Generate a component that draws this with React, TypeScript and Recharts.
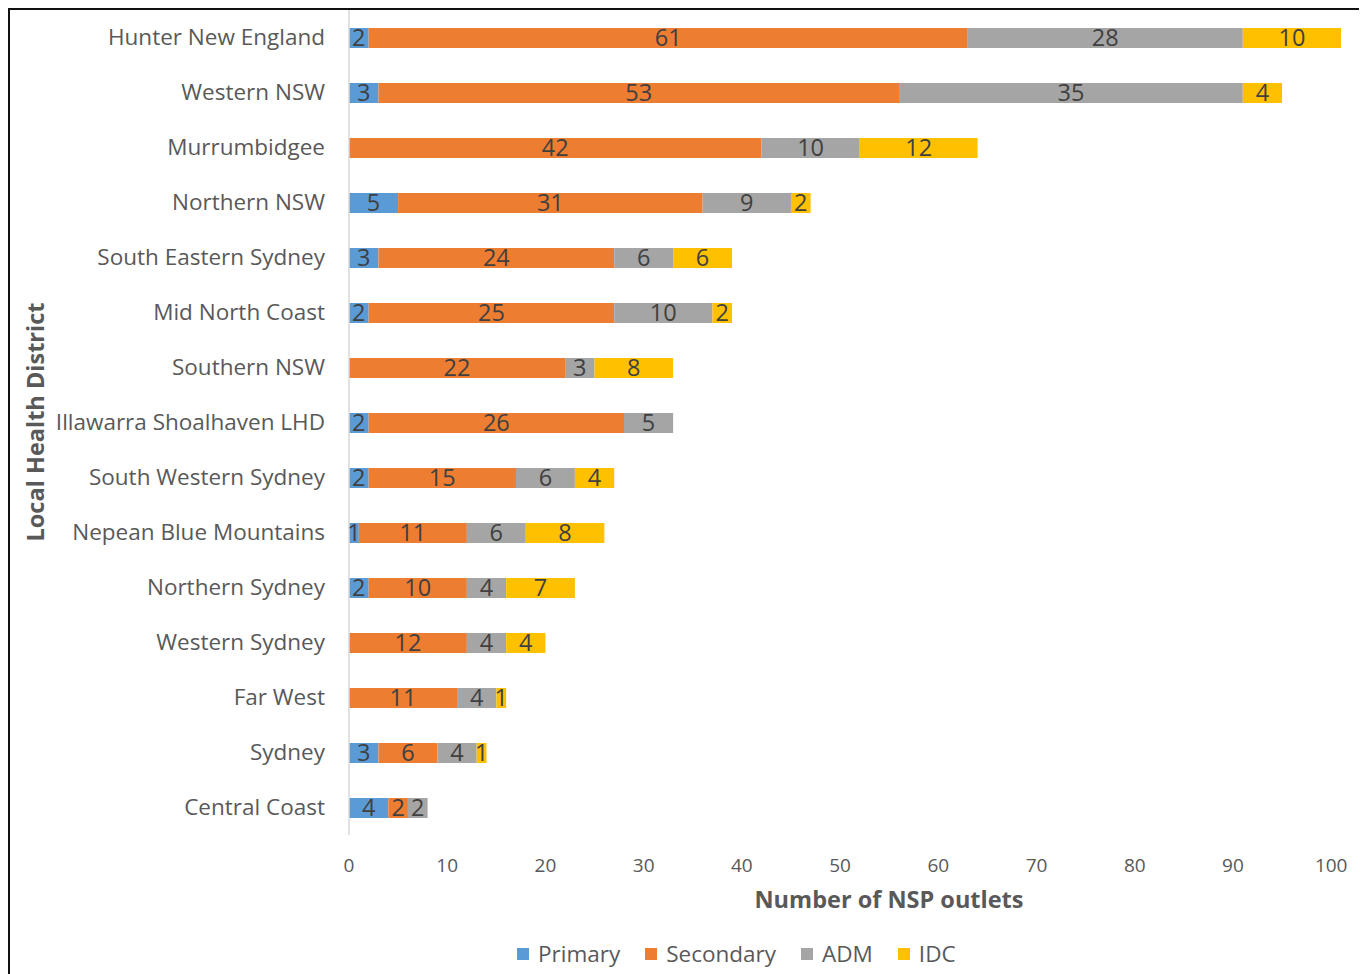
import React from 'react';
import { BarChart, Bar, XAxis, YAxis, Legend, LabelList } from 'recharts';

const districts = [
  'Hunter New England',
  'Western NSW',
  'Murrumbidgee',
  'Northern NSW',
  'South Eastern Sydney',
  'Mid North Coast',
  'Southern NSW',
  'Illawarra Shoalhaven LHD',
  'South Western Sydney',
  'Nepean Blue Mountains',
  'Northern Sydney',
  'Western Sydney',
  'Far West',
  'Sydney',
  'Central Coast',
];
const primary = [2, 3, 0, 5, 3, 2, 0, 2, 2, 1, 2, 0, 0, 3, 4];
const secondary = [61, 53, 42, 31, 24, 25, 22, 26, 15, 11, 10, 12, 11, 6, 2];
const adm = [28, 35, 10, 9, 6, 10, 3, 5, 6, 6, 4, 4, 4, 4, 2];
const idc = [10, 4, 12, 2, 6, 2, 8, 0, 4, 8, 7, 4, 1, 1, 0];
const xTicks = [0, 10, 20, 30, 40, 50, 60, 70, 80, 90, 100];

const series = [
  { key: 'Primary', color: '#5B9BD5' },
  { key: 'Secondary', color: '#ED7D31' },
  { key: 'ADM', color: '#A5A5A5' },
  { key: 'IDC', color: '#FFC000' },
];

const data = districts.map((name, i) => ({
  name,
  Primary: primary[i],
  Secondary: secondary[i],
  ADM: adm[i],
  IDC: idc[i],
}));

const FONT = '"Open Sans", sans-serif';

const renderLegend = () => (
  <div
    style={{
      position: 'absolute',
      left: 509,
      top: 0,
      display: 'flex',
      gap: 25,
      fontFamily: FONT,
      fontSize: 22.5,
      color: '#595959',
      whiteSpace: 'nowrap',
      lineHeight: '30px',
    }}
  >
    {series.map((s) => (
      <div key={s.key} style={{ display: 'flex', alignItems: 'center', gap: 9 }}>
        <span style={{ display: 'inline-block', width: 12, height: 12, background: s.color }} />
        <span>{s.key}</span>
      </div>
    ))}
  </div>
);

const fmt = (v: any) => (v ? v : '');

export default function App() {
  return (
    <div style={{ position: 'relative', width: 1355, height: 975 }}>
      <BarChart
        width={1355}
        height={975}
        data={data}
        layout="vertical"
        margin={{ top: 2, right: 22, left: 0, bottom: 108 }}
        style={{ fontFamily: FONT }}
      >
        <XAxis
          type="number"
          domain={[0, 101]}
          ticks={xTicks}
          axisLine={false}
          tickLine={false}
          tickSize={0}
          tickMargin={24}
          height={40}
          interval={0}
          tick={{ fill: '#595959', fontSize: 19, fontFamily: FONT }}
          label={{
            content: () => (
              <text
                x={881}
                y={891}
                textAnchor="middle"
                dominantBaseline="central"
                fill="#595959"
                fontFamily={FONT}
                fontSize={23.5}
                fontWeight="bold"
              >
                Number of NSP outlets
              </text>
            ),
          }}
        />
        <YAxis
          type="category"
          dataKey="name"
          width={341}
          axisLine={{ stroke: '#D9D9D9', strokeWidth: 1.5 }}
          tickLine={false}
          tickSize={0}
          tickMargin={24}
          interval={0}
          tick={{ fill: '#595959', fontSize: 22.5, fontFamily: FONT }}
          label={{
            content: () => (
              <text
                x={27}
                y={414}
                textAnchor="middle"
                dominantBaseline="central"
                transform="rotate(-90, 27, 414)"
                fill="#595959"
                fontFamily={FONT}
                fontSize={23.5}
                fontWeight="bold"
              >
                Local Health District
              </text>
            ),
          }}
        />
        <Legend
          content={renderLegend}
          wrapperStyle={{ position: 'absolute', left: 0, top: 931, width: 1355, height: 0 }}
        />
        {series.map((s) => (
          <Bar
            key={s.key}
            dataKey={s.key}
            stackId="a"
            fill={s.color}
            barSize={20}
            isAnimationActive={false}
          >
            <LabelList
              dataKey={s.key}
              position="center"
              formatter={fmt}
              fill="#404040"
              fontSize={23.5}
              fontFamily={FONT}
            />
          </Bar>
        ))}
      </BarChart>
      <div
        style={{
          position: 'absolute',
          left: 0,
          top: 0,
          width: 1355,
          height: 975,
          border: '2px solid #111',
          boxSizing: 'border-box',
          pointerEvents: 'none',
        }}
      />
    </div>
  );
}
